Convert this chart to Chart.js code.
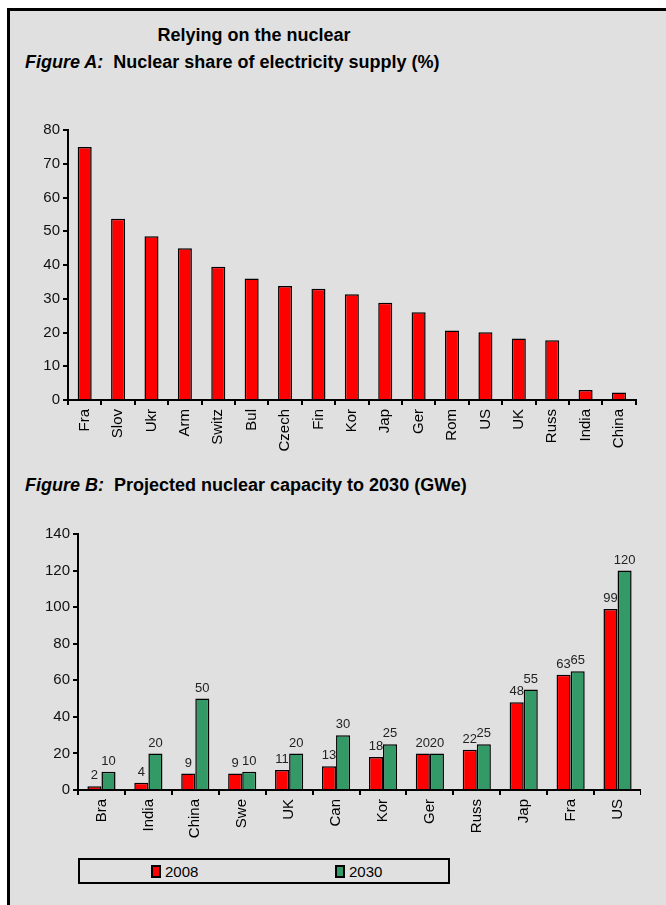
<!DOCTYPE html>
<html>
<head>
<meta charset="utf-8">
<script src="https://cdn.jsdelivr.net/npm/chart.js@4.4.1/dist/chart.umd.min.js"></script>
<style>
  body { margin: 0; background: #fff; font-family: "Liberation Sans", Arial, sans-serif; }
  #frame {
    position: absolute; left: 7px; top: 8px; width: 680px; height: 920px;
    background: #e0e0e0; border-left: 3px solid #000; border-top: 3px solid #000;
  }
  .txt { position: absolute; white-space: nowrap; color: #000; font-weight: bold; }
  #title { left: 0; width: 508px; text-align: center; top: 25px; font-size: 18px; }
  #titleA { left: 25px; top: 52px; font-size: 18px; }
  #titleB { left: 25px; top: 475px; font-size: 18px; }
  canvas { position: absolute; left: 0; }
  #chartA { top: 118px; }
  #chartB { top: 522px; }
  #legend {
    position: absolute; left: 78px; top: 858px; width: 368px; height: 22px;
    border: 2px solid #000; font-size: 15px;
  }
  .item { position: absolute; top: 3px; display: flex; align-items: center; }
  .sw { width: 6px; height: 9px; border: 2px solid #000; margin-right: 4px; }
</style>
</head>
<body>
<div id="frame"></div>
<div class="txt" id="title">Relying on the nuclear</div>
<div class="txt" id="titleA"><i>Figure A:</i>&nbsp; Nuclear share of electricity supply (%)</div>
<div class="txt" id="titleB"><i>Figure B:</i>&nbsp; Projected nuclear capacity to 2030 (GWe)</div>
<canvas id="chartA" width="641" height="336"></canvas>
<canvas id="chartB" width="641" height="330"></canvas>
<div id="legend"></div>
<script>
// Figure A data
const shareCountries = ['Fra', 'Slov', 'Ukr', 'Arm', 'Switz', 'Bul', 'Czech', 'Fin', 'Kor', 'Jap', 'Ger', 'Rom', 'US', 'UK', 'Russ', 'India', 'China'];
const shareValues = [75, 53.7, 48.5, 45, 39.5, 36, 33.8, 33, 31.3, 28.8, 26, 20.6, 20.1, 18.2, 17.7, 3, 2.2];

// Figure B data
const capCountries = ['Bra', 'India', 'China', 'Swe', 'UK', 'Can', 'Kor', 'Ger', 'Russ', 'Jap', 'Fra', 'US'];
const seriesNames = ['2008', '2030'];
const cap2008 = [2, 4, 9, 9, 11, 13, 18, 20, 22, 48, 63, 99];
const cap2030 = [10, 20, 50, 10, 20, 30, 25, 20, 25, 55, 65, 120];
const seriesColors = ['#ff0000', '#339966'];

const FONT = '"Liberation Sans", Arial, sans-serif';
Chart.defaults.font.family = FONT;
Chart.defaults.color = '#000';
Chart.defaults.animation = false;

// value labels above bars
const valueLabels = {
  id: 'valueLabels',
  afterDatasetsDraw(chart, args, opts) {
    if (!opts.show) return;
    const ctx = chart.ctx;
    ctx.save();
    ctx.font = '13px ' + FONT;
    ctx.fillStyle = '#222';
    ctx.textAlign = 'center';
    ctx.textBaseline = 'bottom';
    chart.data.datasets.forEach((ds, i) => {
      chart.getDatasetMeta(i).data.forEach((bar, j) => {
        ctx.fillText(String(ds.data[j]), bar.x, bar.y - 4);
      });
    });
    ctx.restore();
  }
};

function axes(max, step, yWidth, xHeight) {
  return {
    x: {
      grid: { display: true, drawOnChartArea: false, color: '#000', tickLength: 5, lineWidth: 2, offset: true },
      border: { color: '#000', width: 2 },
      ticks: { font: { size: 15 }, maxRotation: 90, minRotation: 90, padding: 4, autoSkip: false },
      afterFit: s => { s.height = xHeight; }
    },
    y: {
      min: 0, max: max,
      grid: { display: true, drawOnChartArea: false, color: '#000', tickLength: 5, lineWidth: 2 },
      border: { color: '#000', width: 2 },
      ticks: { stepSize: step, font: { size: 15 }, padding: 3, color: '#111' },
      afterFit: s => { s.width = yWidth; }
    }
  };
}

new Chart(document.getElementById('chartA'), {
  type: 'bar',
  data: {
    labels: shareCountries,
    datasets: [{
      data: shareValues,
      backgroundColor: '#ff0000',
      borderColor: '#000',
      borderWidth: 1.5,
      categoryPercentage: 1,
      barPercentage: 0.42
    }]
  },
  options: {
    responsive: false,
    layout: { padding: { top: 3, right: 0 } },
    plugins: { legend: { display: false }, tooltip: { enabled: false }, valueLabels: { show: false } },
    scales: axes(80, 10, 68, 54)
  },
  plugins: [valueLabels]
});

new Chart(document.getElementById('chartB'), {
  type: 'bar',
  data: {
    labels: capCountries,
    datasets: [cap2008, cap2030].map((vals, i) => ({
      label: seriesNames[i],
      data: vals,
      backgroundColor: seriesColors[i],
      borderColor: '#000',
      borderWidth: 1.5,
      categoryPercentage: 0.6,
      barPercentage: 1
    }))
  },
  options: {
    responsive: false,
    layout: { padding: { top: 3, right: 0 } },
    plugins: { legend: { display: false }, tooltip: { enabled: false }, valueLabels: { show: true } },
    scales: axes(140, 20, 78, 62)
  },
  plugins: [valueLabels]
});

// legend box
const legend = document.getElementById('legend');
const itemLeft = [71, 255];
seriesNames.forEach((name, i) => {
  const el = document.createElement('div');
  el.className = 'item';
  el.style.left = itemLeft[i] + 'px';
  el.innerHTML = '<span class="sw" style="background:' + seriesColors[i] + '"></span>' + name;
  legend.appendChild(el);
});
</script>
</body>
</html>
